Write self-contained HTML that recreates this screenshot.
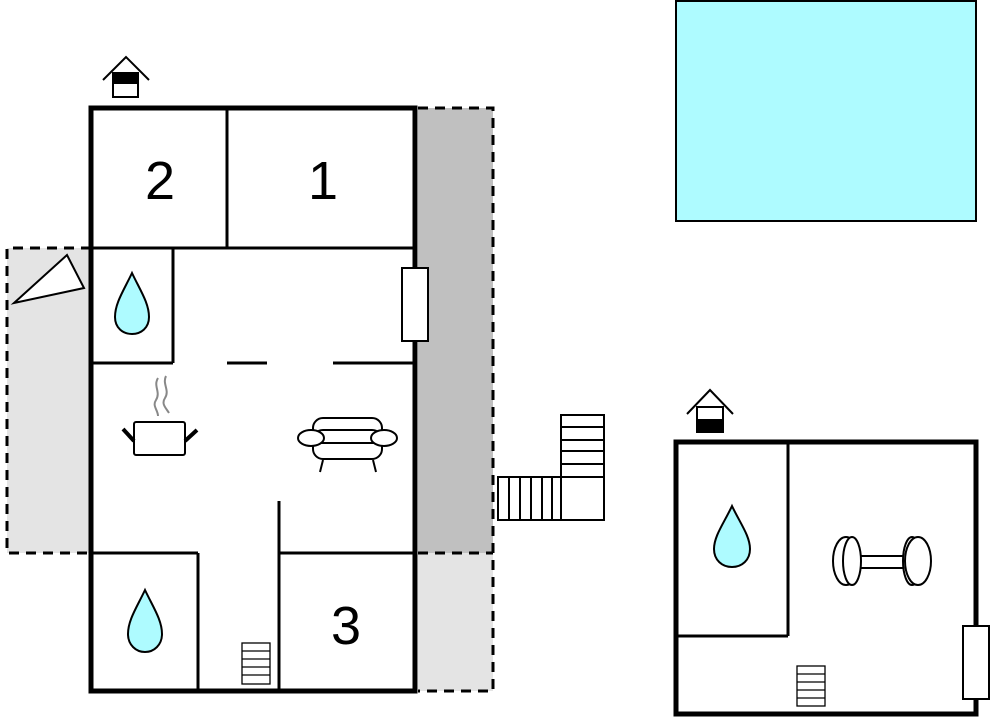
<!DOCTYPE html>
<html><head><style>html,body{margin:0;padding:0;background:#fff}svg{display:block}</style></head>
<body>
<svg width="1000" height="718" viewBox="0 0 1000 718" xmlns="http://www.w3.org/2000/svg" font-family="Liberation Sans, sans-serif">
<!-- shaded areas -->
<rect x="418" y="108" width="75" height="445" fill="#c0c0c0"/>
<rect x="418" y="553" width="75" height="138" fill="#e4e4e4"/>
<rect x="7" y="248" width="84" height="305" fill="#e4e4e4"/>
<g stroke="#000" stroke-width="3" stroke-dasharray="10,7" fill="none">
<polyline points="418,108 493,108 493,691 418,691"/>
<line x1="418" y1="553" x2="493" y2="553"/>
<polyline points="91,248 7,248 7,553 91,553"/>
</g>
<!-- pool -->
<rect x="676" y="1" width="300" height="220" fill="#aefbff" stroke="#000" stroke-width="2"/>
<!-- main house interior lines -->
<g stroke="#000" stroke-width="3" fill="none">
<line x1="227" y1="108" x2="227" y2="248"/>
<line x1="91" y1="248" x2="415" y2="248"/>
<line x1="173" y1="248" x2="173" y2="363"/>
<line x1="91" y1="363" x2="173" y2="363"/>
<line x1="227" y1="363" x2="267" y2="363"/>
<line x1="333" y1="363" x2="413" y2="363"/>
<line x1="279" y1="501" x2="279" y2="691"/>
<line x1="91" y1="553" x2="198" y2="553"/>
<line x1="198" y1="553" x2="198" y2="691"/>
<line x1="279" y1="553" x2="415" y2="553"/>
</g>
<rect x="91" y="108" width="324" height="583" fill="none" stroke="#000" stroke-width="5"/>
<rect x="402" y="268" width="26" height="73" fill="#fff" stroke="#000" stroke-width="2"/>
<polygon points="14,303 67,255 84,288" fill="#fff" stroke="#000" stroke-width="2"/>
<!-- house icon 1 -->
<polyline points="103,80 126,57 149,80" fill="none" stroke="#000" stroke-width="2"/>
<rect x="113" y="73" width="25" height="24" fill="#fff" stroke="#000" stroke-width="2"/>
<rect x="113" y="73" width="25" height="11" fill="#000"/>
<!-- numbers -->
<text x="160" y="199" font-size="54" text-anchor="middle">2</text>
<text x="323" y="199" font-size="54" text-anchor="middle">1</text>
<text x="346" y="644" font-size="54" text-anchor="middle">3</text>
<!-- drops -->
<g fill="#aefbff" stroke="#000" stroke-width="2">
<path d="M132,273 C124,290 115,303 115,317 C115,328 123,334 132,334 C141,334 149,328 149,317 C149,303 140,290 132,273 Z"/>
<path d="M145,590 C137,607 128,620 128,634 C128,645 136,652 145,652 C154,652 162,645 162,634 C162,620 153,607 145,590 Z"/>
<path d="M732,506 C724,523 714,536 714,549 C714,560 722,567 732,567 C742,567 750,560 750,549 C750,536 740,523 732,506 Z"/>
</g>
<!-- pot -->
<g stroke="#000" fill="#fff">
<rect x="134" y="422" width="51" height="33" rx="2" stroke-width="2"/>
<line x1="123" y1="429" x2="134" y2="441" stroke-width="4"/>
<line x1="185" y1="441" x2="197" y2="430" stroke-width="4"/>
</g>
<g stroke="#888" stroke-width="2" fill="none">
<path d="M158,378 C153,386 161,392 156,400 C152,406 158,410 158,416"/>
<path d="M166,376 C162,384 170,390 165,398 C161,404 166,408 169,413"/>
</g>
<!-- sofa -->
<g stroke="#000" stroke-width="2" fill="#fff">
<rect x="313" y="418" width="69" height="30" rx="10"/>
<rect x="313" y="430" width="69" height="29" rx="10"/>
<line x1="313" y1="443" x2="382" y2="443"/>
<ellipse cx="311" cy="438" rx="13" ry="8"/>
<ellipse cx="384" cy="438" rx="13" ry="8"/>
<line x1="323" y1="460" x2="320" y2="472"/>
<line x1="373" y1="460" x2="376" y2="472"/>
</g>
<!-- small stair main -->
<g stroke="#000" stroke-width="1.3" fill="#fff">
<rect x="242" y="643" width="28" height="41"/>
<line x1="242" y1="651" x2="270" y2="651"/><line x1="242" y1="659" x2="270" y2="659"/>
<line x1="242" y1="667" x2="270" y2="667"/><line x1="242" y1="675" x2="270" y2="675"/>
</g>
<!-- outside stairs -->
<g stroke="#000" stroke-width="2" fill="#fff">
<rect x="561" y="415" width="43" height="105"/>
<line x1="561" y1="427" x2="604" y2="427"/><line x1="561" y1="440" x2="604" y2="440"/>
<line x1="561" y1="451" x2="604" y2="451"/><line x1="561" y1="464" x2="604" y2="464"/>
<line x1="561" y1="477" x2="604" y2="477"/>
<rect x="498" y="477" width="63" height="43"/>
<line x1="509" y1="477" x2="509" y2="520"/><line x1="520" y1="477" x2="520" y2="520"/>
<line x1="531" y1="477" x2="531" y2="520"/><line x1="542" y1="477" x2="542" y2="520"/>
<line x1="552" y1="477" x2="552" y2="520"/>
</g>
<!-- second building -->
<g stroke="#000" stroke-width="3" fill="none">
<line x1="788" y1="442" x2="788" y2="636"/>
<line x1="676" y1="636" x2="788" y2="636"/>
</g>
<rect x="676" y="442" width="300" height="272" fill="none" stroke="#000" stroke-width="5"/>
<rect x="963" y="626" width="26" height="73" fill="#fff" stroke="#000" stroke-width="2"/>
<polyline points="687,414 710,390 733,414" fill="none" stroke="#000" stroke-width="2"/>
<rect x="697" y="407" width="26" height="25" fill="#fff" stroke="#000" stroke-width="2"/>
<rect x="697" y="419" width="26" height="13" fill="#000"/>
<g stroke="#000" stroke-width="1.3" fill="#fff">
<rect x="797" y="666" width="28" height="40"/>
<line x1="797" y1="674" x2="825" y2="674"/><line x1="797" y1="682" x2="825" y2="682"/>
<line x1="797" y1="690" x2="825" y2="690"/><line x1="797" y1="698" x2="825" y2="698"/>
</g>
<!-- dumbbell -->
<g stroke="#000" stroke-width="2" fill="#fff">
<rect x="850" y="556" width="64" height="12" rx="6"/>
<ellipse cx="846" cy="561" rx="13" ry="24"/>
<ellipse cx="852" cy="561" rx="9" ry="24"/>
<ellipse cx="912" cy="561" rx="9" ry="24"/>
<ellipse cx="918" cy="561" rx="13" ry="24"/>
</g>
</svg>
</body></html>
